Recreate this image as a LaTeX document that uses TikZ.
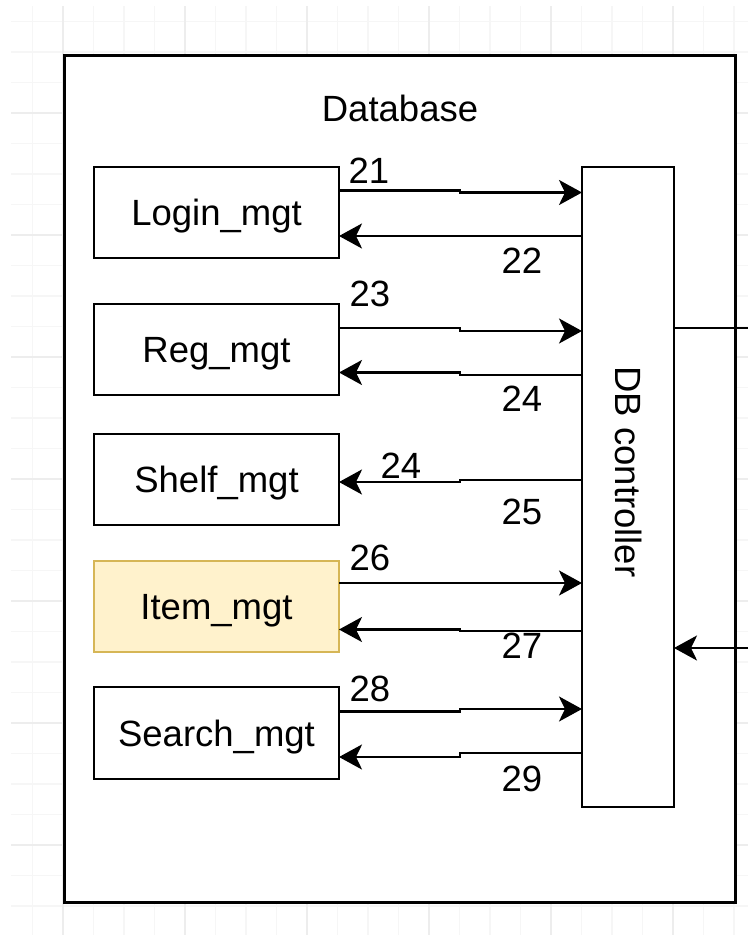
\documentclass[tikz,border=0pt]{standalone}
\usepackage{fontspec}
\setmainfont{Liberation Sans}
\usetikzlibrary{arrows.meta}

\definecolor{gridminor}{HTML}{F6F6F6}
\definecolor{gridmajor}{HTML}{EDEDED}
\definecolor{itemfill}{HTML}{FFF2CC}
\definecolor{itemline}{HTML}{D6B656}

\begin{document}
\begin{tikzpicture}[x=1pt,y=-1pt,
  txt/.style={font=\fontsize{36.5}{43}\selectfont, inner sep=0pt, outer sep=0pt},
  module/.style={txt, draw=black, line width=2.4pt, fill=white,
    minimum width=245pt, minimum height=91pt, text height=26pt, text depth=0pt},
  frame/.style={draw=black, line width=3pt, fill=white, inner sep=0pt, outer sep=0pt},
  ctrl/.style={draw=black, line width=2.4pt, fill=white, inner sep=0pt, outer sep=0pt,
    minimum width=92pt, minimum height=640pt},
  num/.style={txt},
  wire/.style={line width=2.5pt, draw=black},
  conn/.style={wire, -{Stealth[length=23pt,width=25pt,inset=6pt]}}
]
\useasboundingbox (0,0) rectangle (748,935);
\fill[white] (0,0) rectangle (748,935);

% faint canvas grid
\begin{scope}
  \clip (11,6) rectangle (748,935);
  \foreach \gx in {32.5,63,...,748} \draw[gridminor, line width=1.4pt] (\gx,6) -- (\gx,935);
  \foreach \gy in {21.5,52,...,935} \draw[gridminor, line width=1.4pt] (11,\gy) -- (748,\gy);
  \foreach \gx in {63,185,...,748} \draw[gridmajor, line width=1.6pt] (\gx,6) -- (\gx,935);
  \foreach \gy in {113,235,...,935} \draw[gridmajor, line width=1.6pt] (11,\gy) -- (748,\gy);
\end{scope}

% database container
\node[frame, minimum width=671pt, minimum height=847pt] (database) at (399.5,478.5) {};
\node[txt, text height=26pt, text depth=0pt] (dbtitle) at (400,108) {Database};

% modules
\node[module] (login)  at (216.5,212.5) {Login\_mgt};
\node[module] (reg)    at (216.5,349.5) {Reg\_mgt};
\node[module] (shelf)  at (216.5,479.5) {Shelf\_mgt};
\node[module, fill=itemfill, draw=itemline] (item) at (216.5,606.5) {Item\_mgt};
\node[module, minimum height=92pt] (search) at (216.5,733) {Search\_mgt};

% controller
\node[ctrl] (db) at (628,487) {};
\node[txt, rotate=-90, text height=26pt, text depth=0pt] (dblabel) at (628,472) {DB controller};

% external connections
\coordinate (outR) at (748,328);
\coordinate (inR)  at (748,648);
\draw[wire] (db.east |- 0,328) -- (outR);
\draw[conn] (inR) -- (db.east |- 0,648);

% Login_mgt
\draw[conn] (login.east |- 0,190.5) -- (460,190.5) -- (460,192.5) -- (db.west |- 0,192.5);
\draw[conn] (db.west |- 0,236) -- (login.east |- 0,236);
\node[num] (n21) at (369,171) {21};
\node[num] (n22) at (522,261) {22};

% Reg_mgt
\draw[conn] (reg.east |- 0,328) -- (460,328) -- (460,331) -- (db.west |- 0,331);
\draw[conn] (db.west |- 0,375) -- (460,375) -- (460,372.5) -- (reg.east |- 0,372.5);
\node[num] (n23) at (370,294) {23};
\node[num] (n24a) at (522,399) {24};

% Shelf_mgt
\draw[conn] (db.west |- 0,480) -- (460,480) -- (460,482) -- (shelf.east |- 0,482);
\node[num] (n24b) at (401,466) {24};
\node[num] (n25) at (522,512) {25};

% Item_mgt
\draw[conn] (item.east |- 0,583) -- (db.west |- 0,583);
\draw[conn] (db.west |- 0,631) -- (460,631) -- (460,629.5) -- (item.east |- 0,629.5);
\node[num] (n26) at (370,558) {26};
\node[num] (n27) at (522,646) {27};

% Search_mgt
\draw[conn] (search.east |- 0,711.5) -- (460,711.5) -- (460,709) -- (db.west |- 0,709);
\draw[conn] (db.west |- 0,753) -- (460,753) -- (460,757) -- (search.east |- 0,757);
\node[num] (n28) at (370,689) {28};
\node[num] (n29) at (522,779) {29};
\end{tikzpicture}
\end{document}
